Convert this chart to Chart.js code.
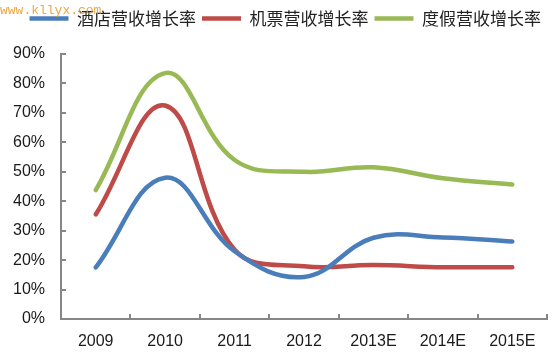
<!DOCTYPE html>
<html>
<head>
<meta charset="utf-8">
<script src="https://cdn.jsdelivr.net/npm/chart.js@4/dist/chart.umd.min.js"></script>
<style>
  html, body { margin: 0; padding: 0; background: #fff; }
  #wrap { width: 554px; height: 357px; position: relative; }
</style>
</head>
<body>
<div id="wrap"><canvas id="c" width="554" height="357"></canvas></div>
<script>
const categories = ['2009', '2010', '2011', '2012', '2013E', '2014E', '2015E'];
const seriesNames = ['酒店营收增长率', '机票营收增长率', '度假营收增长率'];
const hotelGrowth = [17.5, 48.0, 23.0, 14.3, 27.6, 27.7, 26.3];
const flightGrowth = [35.5, 72.5, 23.5, 17.9, 18.3, 17.6, 17.6];
const holidayGrowth = [43.8, 83.5, 54.0, 50.0, 51.5, 47.8, 45.7];
const yTicks = [0, 10, 20, 30, 40, 50, 60, 70, 80, 90];
const watermark = 'www.kllyx.com';

const colors = ['#4a7ebb', '#be4b48', '#98b954'];
const axisColor = '#868686';

const legendSpacer = {
  id: 'legendSpacer',
  beforeInit(chart) {
    const lg = chart.legend;
    const fit = lg.fit;
    lg.fit = function () { fit.call(this); this.height += 17; };
  }
};

const innerTicks = {
  id: 'innerTicks',
  afterDatasetsDraw(chart) {
    const ctx = chart.ctx;
    const x = chart.scales.x, y = chart.scales.y;
    ctx.save();
    ctx.strokeStyle = axisColor;
    ctx.lineWidth = 2;
    ctx.beginPath();
    for (let i = 0; i <= categories.length; i++) {
      const px = Math.round(x.getPixelForValue(i - 0.5));
      ctx.moveTo(px, y.bottom);
      ctx.lineTo(px, y.bottom - 5);
    }
    yTicks.forEach(v => {
      const py = Math.round(y.getPixelForValue(v));
      ctx.moveTo(x.left, py);
      ctx.lineTo(x.left + 5, py);
    });
    ctx.stroke();
    ctx.restore();
  },
  afterDraw(chart) {
    const ctx = chart.ctx;
    ctx.save();
    ctx.font = '13px "Liberation Mono", monospace';
    ctx.fillStyle = 'rgba(235, 150, 30, 0.85)';
    ctx.textBaseline = 'middle';
    ctx.fillText(watermark, 0, 11);
    ctx.restore();
  }
};

new Chart(document.getElementById('c'), {
  type: 'line',
  data: {
    labels: categories,
    datasets: [hotelGrowth, flightGrowth, holidayGrowth].map((d, i) => ({
      label: seriesNames[i],
      data: d,
      borderColor: colors[i],
      backgroundColor: colors[i],
      borderWidth: 4.5,
      pointRadius: 0,
      pointHoverRadius: 0,
      tension: 0.4,
      fill: false,
      borderCapStyle: 'round'
    }))
  },
  options: {
    responsive: false,
    animation: false,
    events: [],
    layout: { padding: { top: 4, left: 0, right: 7, bottom: 0 } },
    plugins: {
      tooltip: { enabled: false },
      legend: {
        display: true,
        position: 'top',
        align: 'end',
        labels: {
          usePointStyle: true,
          pointStyle: 'line',
          pointStyleWidth: 39,
          padding: 6,
          color: '#222',
          font: { family: '"Noto Sans CJK SC", sans-serif', size: 17 }
        }
      }
    },
    scales: {
      x: {
        offset: true,
        grid: { display: true, drawOnChartArea: false, drawTicks: false, offset: true, color: axisColor },
        border: { display: true, color: axisColor, width: 2 },
        ticks: {
          padding: 13,
          color: '#1a1a1a',
          maxRotation: 0,
          autoSkip: false,
          font: { family: '"Liberation Sans", Arial, sans-serif', size: 16 }
        },
        afterFit(s) { s.height = 38; }
      },
      y: {
        min: 0,
        max: 90,
        grid: { display: true, drawOnChartArea: false, drawTicks: false, color: axisColor },
        border: { display: true, color: axisColor, width: 2 },
        afterBuildTicks(s) { s.ticks = yTicks.map(v => ({ value: v })); },
        ticks: {
          padding: 16,
          color: '#1a1a1a',
          callback: v => v + '%',
          font: { family: '"Liberation Sans", Arial, sans-serif', size: 16 }
        },
        afterFit(s) { s.width = 61; }
      }
    }
  },
  plugins: [legendSpacer, innerTicks]
});
</script>
</body>
</html>
